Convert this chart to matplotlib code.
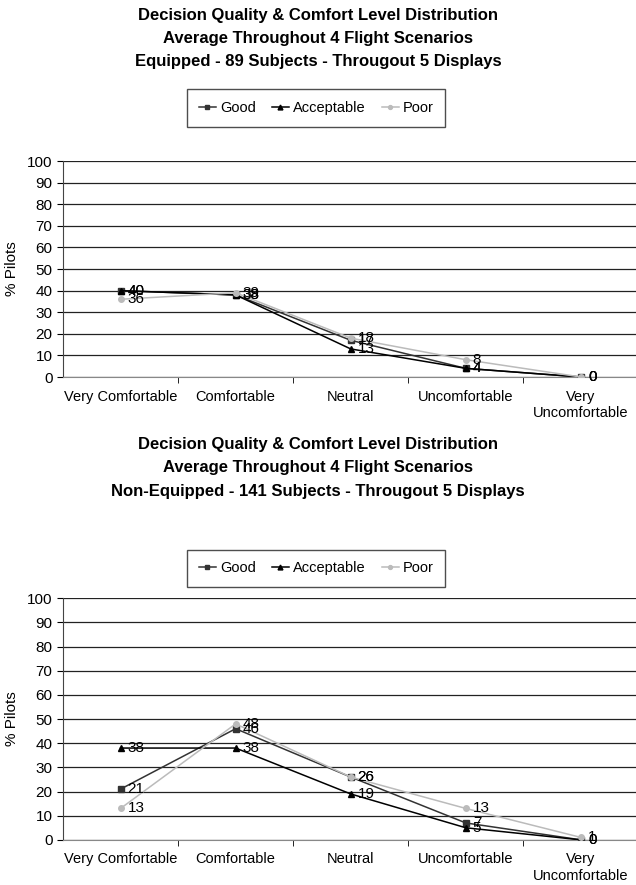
import matplotlib.pyplot as plt

plt.rcParams['font.family'] = ['Liberation Sans', 'DejaVu Sans']

categories = ['Very Comfortable', 'Comfortable', 'Neutral', 'Uncomfortable', 'Very\nUncomfortable']
series_names = ['Good', 'Acceptable', 'Poor']

# Equipped - 89 subjects
eq_good = [40, 38, 17, 4, 0]
eq_acceptable = [40, 38, 13, 4, 0]
eq_poor = [36, 39, 18, 8, 0]

# Non-equipped - 141 subjects
ne_good = [21, 46, 26, 7, 0]
ne_acceptable = [38, 38, 19, 5, 0]
ne_poor = [13, 48, 26, 13, 1]

titles = [
    'Decision Quality & Comfort Level Distribution\nAverage Throughout 4 Flight Scenarios\nEquipped - 89 Subjects - Througout 5 Displays',
    'Decision Quality & Comfort Level Distribution\nAverage Throughout 4 Flight Scenarios\nNon-Equipped - 141 Subjects - Througout 5 Displays',
]

styles = {
    'Good': dict(color='#333333', marker='s', ms=5),
    'Acceptable': dict(color='#000000', marker='^', ms=5),
    'Poor': dict(color='#bbbbbb', marker='o', ms=4),
}

fig = plt.figure(figsize=(6.36, 8.85), dpi=100)

panels = [
    (fig.add_axes([0.099, 0.574, 0.905, 0.244]), [eq_good, eq_acceptable, eq_poor], 0.878),
    (fig.add_axes([0.099, 0.051, 0.905, 0.273]), [ne_good, ne_acceptable, ne_poor], 0.358),
]

x = list(range(len(categories)))
for ax, data, leg_y in panels:
    for name, vals in zip(series_names, data):
        st = styles[name]
        ax.plot(x, vals, color=st['color'], marker=st['marker'], ms=st['ms'],
                lw=1.1, label=name, zorder=3)
        for xi, v in zip(x, vals):
            ax.annotate(str(v), (xi, v), xytext=(5, 0), textcoords='offset points',
                        va='center', ha='left', fontsize=11, zorder=4)
    ax.set_xlim(-0.5, 4.5)
    ax.set_ylim(0, 100)
    ax.set_yticks(range(0, 101, 10))
    ax.set_xticks(x)
    ax.set_xticklabels(categories, fontsize=10.5)
    ax.set_xticks([0.5, 1.5, 2.5, 3.5], minor=True)
    ax.tick_params(axis='x', which='major', length=0, pad=9)
    ax.tick_params(axis='x', which='minor', length=4, direction='out')
    ax.tick_params(axis='y', labelsize=11, length=4, direction='out')
    ax.grid(axis='y', color='#222222', lw=0.9)
    ax.set_axisbelow(True)
    ax.spines['top'].set_visible(False)
    ax.spines['right'].set_visible(False)
    ax.spines['left'].set_color('#444444')
    ax.spines['bottom'].set_color('#888888')
    ax.set_ylabel('% Pilots', fontsize=11, labelpad=6)
    ax.legend(loc='center', bbox_to_anchor=(0.497, leg_y), bbox_transform=fig.transFigure,
              ncol=3, frameon=True, fancybox=False, edgecolor='#222222', fontsize=10.5,
              handlelength=1.2, columnspacing=1.1, handletextpad=0.25,
              borderpad=0.8, markerscale=0.7)

fig.text(0.5, 0.991, titles[0], ha='center', va='top', fontsize=12,
         fontweight='bold', linespacing=1.68)
fig.text(0.5, 0.506, titles[1], ha='center', va='top', fontsize=12,
         fontweight='bold', linespacing=1.68)

fig.savefig('out.png', dpi=100, facecolor='white')
